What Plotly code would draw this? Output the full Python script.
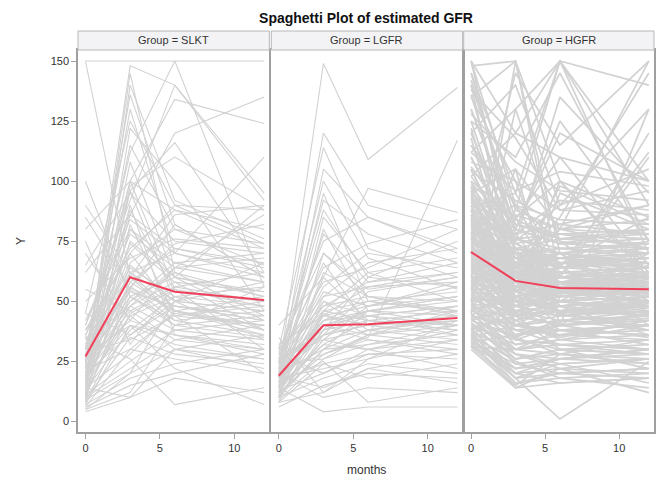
import plotly.graph_objects as go

months = [0, 3, 6, 12]
groups = ["SLKT", "LGFR", "HGFR"]

# subject trajectories (Y at months 0, 3, 6, 12)
slkt = [
    [150, 60, 48, 42], [150, 150, 150, 150], [22, 148, 140, 95], [15, 145, 62, 52],
    [10, 140, 92, 76], [26, 136, 82, 60], [12, 122, 100, 46], [30, 112, 150, 56],
    [40, 92, 140, 92], [20, 100, 134, 124], [35, 96, 116, 62], [8, 98, 110, 88],
    [18, 86, 120, 135], [100, 52, 42, 36], [90, 62, 50, 46], [75, 32, 56, 50],
    [62, 86, 72, 66], [5, 20, 30, 36], [35, 26, 7, 14], [28, 40, 22, 7],
    [4, 10, 30, 26], [6, 30, 45, 40], [8, 45, 55, 48], [10, 55, 40, 35],
    [12, 65, 50, 58], [14, 75, 60, 52], [16, 80, 66, 70], [18, 50, 62, 44],
    [20, 70, 46, 38], [22, 58, 72, 64], [24, 88, 54, 50], [26, 42, 36, 32],
    [28, 66, 80, 74], [30, 54, 48, 42], [32, 78, 64, 86], [34, 48, 58, 54],
    [36, 72, 88, 80], [38, 60, 44, 40], [40, 84, 70, 62], [45, 36, 50, 46],
    [50, 68, 76, 72], [55, 46, 34, 30], [9, 35, 28, 24], [11, 25, 38, 34],
    [13, 38, 52, 56], [15, 44, 30, 22], [17, 56, 42, 46], [19, 62, 70, 60],
    [21, 30, 26, 20], [23, 48, 64, 68], [25, 52, 40, 44], [27, 74, 58, 38],
    [29, 34, 44, 50], [31, 64, 52, 48], [7, 18, 24, 30], [6, 15, 20, 28],
    [10, 22, 34, 40], [14, 28, 46, 52], [18, 40, 32, 26], [22, 46, 56, 62],
    [26, 50, 66, 58], [30, 56, 74, 82], [34, 60, 86, 90], [38, 70, 90, 88],
    [42, 80, 60, 90], [65, 95, 75, 70], [70, 42, 64, 58], [80, 100, 88, 72],
    [85, 55, 82, 60], [24, 115, 80, 65], [16, 108, 60, 42], [12, 96, 50, 34],
    [20, 90, 36, 28], [8, 82, 44, 20], [30, 100, 55, 30], [14, 10, 18, 12],
    [5, 12, 40, 56], [9, 20, 50, 66], [45, 125, 90, 74], [25, 130, 70, 110],
    [12, 48, 38, 42], [16, 58, 46, 40], [20, 36, 48, 44], [24, 62, 44, 48],
    [7, 40, 36, 30], [11, 52, 60, 54], [19, 44, 52, 38], [27, 56, 46, 36],
]

lgfr = [
    [20, 149, 109, 139], [30, 114, 72, 60], [15, 60, 97, 87], [12, 28, 35, 117],
    [25, 100, 68, 55], [18, 95, 50, 45], [22, 88, 60, 75], [16, 80, 46, 52],
    [28, 75, 85, 70], [10, 70, 55, 60], [24, 66, 40, 48], [14, 62, 52, 44],
    [26, 58, 64, 80], [20, 54, 48, 56], [12, 50, 44, 40], [30, 48, 58, 66],
    [8, 45, 36, 42], [18, 42, 50, 54], [22, 40, 46, 50], [16, 38, 42, 46],
    [10, 36, 40, 36], [26, 34, 48, 58], [14, 32, 30, 38], [20, 30, 38, 44],
    [12, 28, 34, 30], [24, 26, 32, 40], [8, 24, 28, 26], [18, 22, 26, 34],
    [28, 20, 30, 22], [10, 18, 24, 20], [6, 15, 20, 18], [14, 4, 6, 6],
    [20, 10, 14, 12], [35, 12, 22, 16], [40, 60, 42, 38], [32, 44, 56, 62],
    [16, 52, 66, 72], [12, 46, 62, 68], [22, 56, 70, 64], [26, 64, 74, 84],
    [30, 70, 52, 46], [18, 36, 54, 60], [10, 30, 46, 52], [14, 40, 34, 28],
    [24, 50, 38, 34], [20, 44, 40, 42], [16, 42, 44, 48], [28, 46, 50, 46],
    [12, 38, 46, 44], [22, 48, 52, 50], [9, 26, 36, 32], [11, 34, 30, 34],
    [13, 20, 28, 30], [17, 24, 18, 24], [19, 14, 22, 28], [25, 38, 60, 56],
    [15, 32, 42, 40], [21, 28, 36, 46], [27, 36, 44, 36], [29, 52, 56, 58],
    [18, 120, 90, 80], [14, 105, 85, 72], [24, 92, 78, 66], [10, 85, 62, 50],
    [20, 78, 58, 62], [16, 25, 8, 14], [8, 12, 26, 42],
    [13, 34, 38, 42], [17, 40, 36, 40], [21, 36, 40, 44], [23, 42, 46, 40],
    [11, 30, 32, 36], [19, 46, 42, 38], [15, 44, 48, 52], [25, 40, 44, 48],
]

hgfr = [
    [150, 120, 150, 90], [148, 150, 100, 60], [145, 95, 150, 140], [140, 60, 80, 150],
    [135, 150, 70, 45], [130, 80, 120, 100], [150, 70, 60, 120], [125, 110, 145, 75],
    [120, 140, 90, 130], [118, 55, 100, 85], [115, 90, 60, 110], [112, 130, 75, 50],
    [110, 75, 135, 95], [108, 100, 50, 70], [105, 65, 85, 145], [102, 120, 110, 65],
    [100, 85, 55, 60], [98, 50, 95, 80], [96, 70, 45, 55], [95, 105, 80, 90],
    [93, 60, 70, 50], [92, 80, 125, 75], [90, 45, 55, 65], [89, 95, 65, 40],
    [88, 55, 40, 60], [86, 75, 90, 105], [85, 65, 60, 55], [84, 40, 50, 45],
    [82, 90, 75, 70], [81, 60, 45, 50], [80, 70, 65, 85], [79, 50, 58, 48],
    [78, 85, 100, 62], [77, 45, 40, 35], [76, 62, 70, 75], [75, 55, 52, 58],
    [74, 72, 48, 44], [73, 48, 60, 66], [72, 66, 80, 72], [71, 40, 35, 42],
    [70, 58, 62, 60], [69, 78, 55, 52], [68, 52, 45, 38], [67, 44, 50, 56],
    [66, 60, 68, 64], [65, 35, 42, 46], [64, 68, 58, 54], [63, 50, 38, 40],
    [62, 56, 64, 70], [61, 42, 48, 36], [60, 64, 55, 58], [59, 38, 32, 30],
    [58, 54, 60, 62], [57, 46, 52, 50], [56, 62, 44, 48], [55, 40, 36, 34],
    [54, 50, 56, 60], [53, 34, 40, 44], [52, 48, 50, 46], [51, 44, 30, 28],
    [50, 52, 46, 52], [49, 36, 42, 38], [48, 42, 34, 40], [47, 30, 38, 32],
    [46, 40, 44, 50], [45, 28, 24, 26], [44, 38, 36, 42], [43, 26, 30, 22],
    [42, 35, 28, 34], [41, 24, 20, 18], [40, 32, 34, 30], [39, 20, 26, 24],
    [38, 28, 22, 20], [37, 18, 24, 16], [36, 25, 18, 14], [35, 16, 20, 22],
    [34, 22, 26, 28], [33, 14, 22, 12], [32, 20, 16, 18], [31, 15, 28, 24],
    [35, 18, 1, 25], [100, 60, 55, 50], [95, 58, 52, 54], [90, 62, 58, 56],
    [88, 54, 50, 48], [85, 66, 62, 60], [82, 52, 48, 52], [80, 60, 56, 58],
    [78, 56, 54, 50], [76, 64, 60, 62], [74, 50, 46, 48], [72, 58, 52, 56],
    [70, 48, 44, 46], [68, 62, 56, 58], [66, 54, 50, 52], [64, 46, 42, 44],
    [62, 58, 54, 56], [60, 44, 40, 42], [58, 52, 48, 50], [56, 40, 38, 40],
    [110, 72, 66, 68], [105, 68, 70, 64], [120, 76, 72, 70], [130, 82, 76, 74],
    [140, 88, 80, 78], [150, 90, 84, 82], [115, 80, 74, 80], [125, 70, 68, 72],
    [135, 100, 88, 86], [145, 78, 92, 88], [98, 74, 78, 76], [92, 70, 64, 68],
    [87, 76, 70, 66], [83, 68, 72, 74], [79, 66, 60, 64], [75, 72, 66, 62],
    [71, 64, 58, 60], [67, 70, 64, 66], [63, 60, 62, 58], [59, 66, 60, 64],
    [55, 56, 58, 54], [51, 58, 52, 56], [47, 50, 54, 52], [43, 46, 48, 50],
    [39, 44, 46, 44], [35, 40, 42, 40], [33, 36, 38, 36], [31, 30, 32, 34],
    [112, 96, 104, 98], [128, 108, 96, 92], [142, 84, 110, 100], [138, 118, 88, 96],
    [104, 92, 82, 90], [122, 62, 98, 82], [136, 74, 64, 112], [50, 130, 150, 70],
    [45, 150, 60, 55], [60, 105, 40, 130], [70, 145, 115, 150], [55, 88, 150, 100],
    [97, 64, 58, 60], [94, 56, 62, 57], [91, 68, 60, 54], [88, 60, 57, 61],
    [86, 52, 55, 53], [84, 62, 64, 66], [83, 58, 50, 55], [81, 66, 58, 53],
    [79, 54, 60, 58], [77, 60, 53, 57], [76, 50, 48, 52], [74, 66, 62, 58],
    [73, 56, 58, 60], [72, 62, 55, 50], [70, 52, 56, 59], [69, 58, 62, 64],
    [68, 50, 46, 44], [67, 64, 60, 56], [66, 48, 52, 55], [65, 56, 50, 47],
    [64, 60, 58, 62], [63, 42, 46, 49], [62, 54, 56, 52], [61, 48, 44, 46],
    [60, 58, 60, 61], [59, 46, 48, 45], [58, 60, 55, 58], [57, 44, 40, 43],
    [56, 52, 54, 57], [55, 48, 50, 47], [54, 36, 40, 42], [53, 44, 46, 48],
    [52, 40, 38, 36], [51, 50, 52, 54], [50, 32, 36, 38], [49, 46, 44, 42],
    [48, 38, 40, 45], [47, 34, 32, 30], [46, 44, 46, 44], [45, 30, 34, 36],
    [44, 40, 42, 40], [43, 28, 26, 30], [42, 36, 38, 40], [41, 30, 32, 28],
    [40, 26, 28, 26], [39, 34, 30, 32], [38, 22, 26, 30], [37, 30, 28, 24],
    [36, 20, 22, 26], [35, 26, 30, 28], [34, 18, 20, 22], [33, 24, 26, 30],
    [32, 16, 18, 20], [31, 22, 24, 26], [30, 14, 16, 18], [102, 76, 70, 66],
    [106, 80, 74, 72], [96, 72, 68, 70], [93, 66, 70, 72], [89, 74, 66, 64],
    [86, 70, 72, 68], [82, 64, 68, 70], [78, 70, 66, 68], [75, 62, 66, 64],
    [71, 68, 64, 62], [68, 72, 70, 74], [65, 66, 68, 66], [62, 70, 66, 68],
    [58, 64, 70, 66], [54, 60, 64, 68], [50, 56, 62, 60], [46, 52, 58, 62],
    [42, 48, 54, 56], [38, 44, 50, 52], [99, 82, 78, 80], [91, 86, 80, 84],
    [84, 78, 82, 78], [77, 84, 76, 80], [69, 80, 74, 76], [61, 76, 78, 72],
    [57, 72, 76, 78], [48, 62, 66, 70], [44, 56, 60, 64], [36, 48, 52, 56],
]

# group mean profiles (red)
mean_slkt = [27, 60, 54, 50.5]
mean_lgfr = [19, 40, 40.5, 43]
mean_hgfr = [70.5, 58.5, 55.5, 55]

subjects = [slkt, lgfr, hgfr]
means = [mean_slkt, mean_lgfr, mean_hgfr]
widths = [1.1, 1.1, 1.7]

grey = "#d2d2d2"
red = "#f0405a"
frame = "#a0a0a0"
font = "Liberation Sans"

fig = go.Figure()
for i, (subs, mn) in enumerate(zip(subjects, means)):
    ax = "" if i == 0 else str(i + 1)
    xs, ys = [], []
    for s in subs:
        xs += months + [None]
        ys += s + [None]
    fig.add_trace(go.Scatter(x=xs, y=ys, mode="lines", xaxis="x" + ax, yaxis="y" + ax,
                             line=dict(color=grey, width=widths[i]), hoverinfo="skip",
                             showlegend=False))
    fig.add_trace(go.Scatter(x=months, y=mn, mode="lines", xaxis="x" + ax, yaxis="y" + ax,
                             line=dict(color=red, width=2), showlegend=False))

domains = [[0, 0.3322], [0.3356, 0.6678], [0.6696, 1]]
layout = dict(
    width=658, height=481,
    margin=dict(l=78, r=2, t=50, b=49),
    paper_bgcolor="white", plot_bgcolor="white",
    font=dict(family=font, size=11, color="#333333"),
    title=dict(text="<b>Spaghetti Plot of estimated GFR</b>", x=0.5, xref="paper",
               xanchor="center", y=1 - 18 / 481, yanchor="middle",
               font=dict(size=14, color="#111111")),
)
for i, dom in enumerate(domains):
    ax = "" if i == 0 else str(i + 1)
    layout["xaxis" + ax] = dict(domain=dom, range=[-0.5, 12.35], tickvals=[0, 5, 10],
                                showgrid=False, zeroline=False, showline=True, mirror=True,
                                linecolor=frame, linewidth=1.5, ticks="outside", ticklen=5,
                                tickcolor=frame, anchor="y" + ax,
                                tickfont=dict(size=11, color="#333333"))
    layout["yaxis" + ax] = dict(range=[-4.4, 154.6], tickvals=[0, 25, 50, 75, 100, 125, 150],
                                showgrid=False, zeroline=False, showline=True, mirror=True,
                                linecolor=frame, linewidth=1.5, anchor="x" + ax,
                                ticks="outside" if i == 0 else "", ticklen=5, tickcolor=frame,
                                showticklabels=(i == 0),
                                tickfont=dict(size=11, color="#333333"))
layout["yaxis"]["title"] = dict(text="Y", standoff=22, font=dict(size=12, color="#333333"))
fig.update_layout(**layout)

shapes, annotations = [], []
for dom, g in zip(domains, groups):
    shapes.append(dict(type="rect", xref="paper", yref="paper", x0=dom[0], x1=dom[1],
                       y0=1.0, y1=1.0497, fillcolor="#f3f3f6",
                       line=dict(color="#b8b8b8", width=1)))
    annotations.append(dict(text="Group = " + g, xref="paper", yref="paper",
                            x=(dom[0] + dom[1]) / 2, y=1.025, showarrow=False,
                            xanchor="center", yanchor="middle",
                            font=dict(size=11, color="#333333")))
annotations.append(dict(text="months", xref="paper", yref="paper", x=0.5, y=-0.0995,
                        xanchor="center", yanchor="middle", showarrow=False,
                        font=dict(size=12, color="#333333")))
fig.update_layout(shapes=shapes, annotations=annotations)

# drop the default 8px page margin so the figure fills the window exactly
fig.write_html("out.html", config={"displayModeBar": False},
               post_script="document.body.style.margin='0';document.body.style.overflow='hidden';")
